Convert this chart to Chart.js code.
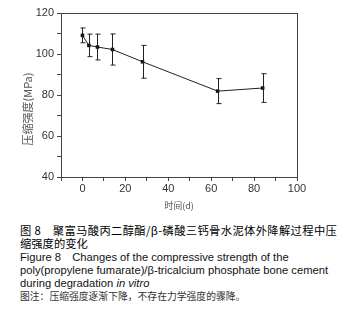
<!DOCTYPE html>
<html>
<head>
<meta charset="utf-8">
<script src="https://cdn.jsdelivr.net/npm/chart.js@4.4.1/dist/chart.umd.min.js"></script>
<style>
    html, body { margin: 0; padding: 0; background: #fff; }
    #wrap { position: relative; width: 347px; height: 324px; overflow: hidden; }
    #chartBox { position: absolute; left: 0; top: 0; width: 347px; height: 212px; }
    #caption { position: absolute; left: 20px; top: 224px; width: 320px; color: #111;
        font-family: "Liberation Sans", Arial, "Noto Sans CJK SC", sans-serif; font-size: 11.2px; line-height: 13.3px; }
    #caption .cn { font-family: "Noto Sans CJK SC", sans-serif; font-size: 11.3px; font-weight: 400; color: #000; }
    #caption .l1 { letter-spacing: 0.35px; }
    #caption .note { font-family: "Noto Sans CJK SC", sans-serif; font-size: 9.8px; color: #333; }
    #caption div { white-space: nowrap; }
</style>
</head>
<body>
<div id="wrap">
    <div id="chartBox"><canvas id="chart" width="347" height="212"></canvas></div>
    <div id="caption">
        <div class="cn l1">图 8&emsp;聚富马酸丙二醇酯/β-磷酸三钙骨水泥体外降解过程中压</div>
        <div class="cn">缩强度的变化</div>
        <div>Figure 8&emsp;Changes of the compressive strength of the</div>
        <div>poly(propylene fumarate)/β-tricalcium phosphate bone cement</div>
        <div>during degradation <i>in vitro</i></div>
        <div class="note">图注：压缩强度逐渐下降，不存在力学强度的骤降。</div>
    </div>
</div>
<script>
    // 降解时间 (d) 与压缩强度 (MPa)
    const days = [0, 3, 7, 14, 28, 63, 84];
    const strength = [109.1, 104.2, 103.4, 102.2, 96.2, 81.9, 83.4];
    const errors = [3.6, 5.5, 6.3, 7.6, 8.0, 6.1, 7.0];

    const xTitle = "时间(d)";
    const yTitle = "压缩强度(MPa)";

    const axisColor = "#444";
    const textColor = "#333";

    // frame round the plot + error bars + y title
    const extras = {
        id: "extras",
        afterDatasetsDraw(chart) {
            const { ctx, chartArea, scales } = chart;
            ctx.save();
            ctx.strokeStyle = axisColor;
            ctx.lineWidth = 1;
            ctx.strokeRect(chartArea.left + 0.5, chartArea.top + 0.5,
                chartArea.right - chartArea.left, chartArea.bottom - chartArea.top);

            ctx.strokeStyle = "#222";
            days.forEach((d, i) => {
                const x = Math.round(scales.x.getPixelForValue(d)) + 0.5;
                const yTop = scales.y.getPixelForValue(strength[i] + errors[i]);
                const yBot = scales.y.getPixelForValue(strength[i] - errors[i]);
                ctx.beginPath();
                ctx.moveTo(x, yTop); ctx.lineTo(x, yBot);
                ctx.moveTo(x - 2, yTop); ctx.lineTo(x + 3, yTop);
                ctx.moveTo(x - 2, yBot); ctx.lineTo(x + 3, yBot);
                ctx.stroke();
            });

            ctx.translate(28, 109);
            ctx.rotate(-Math.PI / 2);
            ctx.fillStyle = "#555";
            ctx.font = '11px "Noto Sans CJK SC", sans-serif';
            ctx.textAlign = "center";
            ctx.textBaseline = "middle";
            ctx.fillText(yTitle, 0, 0);
            ctx.restore();
        }
    };

    const ctx = document.getElementById("chart").getContext("2d");
    new Chart(ctx, {
        type: "line",
        data: {
            datasets: [{
                data: days.map((d, i) => ({ x: d, y: strength[i] })),
                borderColor: "#222",
                backgroundColor: "#111",
                borderWidth: 1,
                pointStyle: "rect",
                pointRadius: 2.5,
                pointBorderWidth: 0,
                tension: 0
            }]
        },
        options: {
            responsive: false,
            animation: false,
            layout: { padding: { left: 0, right: 50, top: 13, bottom: 0 } },
            plugins: { legend: { display: false }, tooltip: { enabled: false } },
            scales: {
                x: {
                    type: "linear",
                    min: -10, max: 100,
                    afterFit(scale) { scale.height = 35; },
                    border: { display: false },
                    grid: { drawOnChartArea: false, tickLength: 4, color: axisColor },
                    ticks: {
                        stepSize: 10,
                        padding: 1,
                        color: textColor,
                        font: { family: '"Liberation Sans", Arial, sans-serif', size: 11 },
                        maxRotation: 0,
                        autoSkip: false,
                        callback: v => (v >= 0 && v % 20 === 0) ? v : ""
                    },
                    title: {
                        display: true, text: xTitle, color: "#555",
                        font: { family: '"Noto Sans CJK SC", sans-serif', size: 9 },
                        padding: { top: 0, bottom: 1 }
                    }
                },
                y: {
                    min: 40, max: 120,
                    afterFit(scale) { scale.width = 61; },
                    border: { display: false },
                    grid: { drawOnChartArea: false, tickLength: 4, color: axisColor },
                    ticks: {
                        stepSize: 10,
                        padding: 3,
                        color: textColor,
                        font: { family: '"Liberation Sans", Arial, sans-serif', size: 11 },
                        autoSkip: false,
                        callback: v => v % 20 === 0 ? v : ""
                    }
                }
            }
        },
        plugins: [extras]
    });
</script>
</body>
</html>
